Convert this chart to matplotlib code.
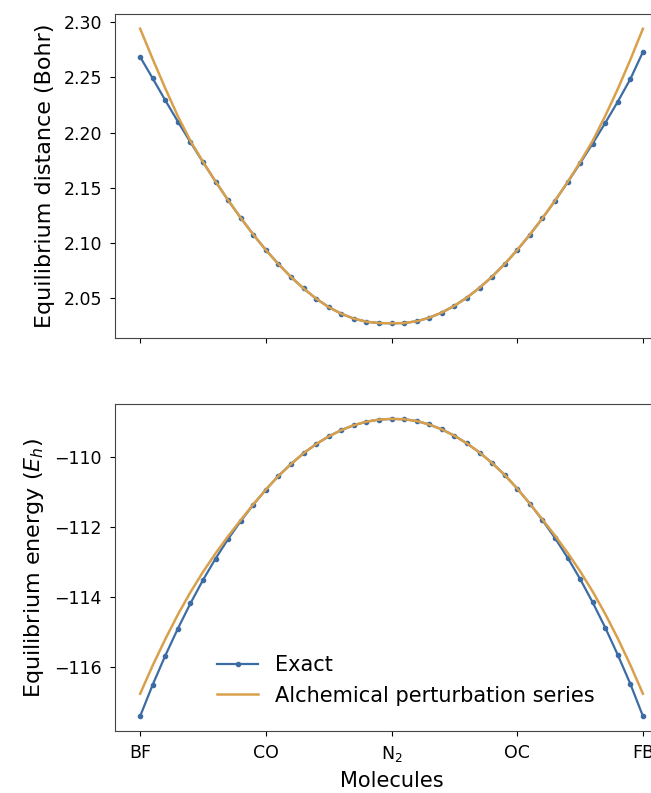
import numpy as np
import matplotlib
matplotlib.use("Agg")
import matplotlib.pyplot as plt

# molecule labels at the tick positions (every 10th point)
tick_labels = ["BF", "CO", "N$_2$", "OC", "FB"]

# equilibrium distance (Bohr)
dist_exact = [2.2685, 2.2490, 2.2292, 2.2100, 2.1913, 2.1732, 2.1556, 2.1387, 2.1228, 2.1077,
              2.0937, 2.0810, 2.0693, 2.0589, 2.0497, 2.0420, 2.0360, 2.0316, 2.0288, 2.0276,
              2.0274, 2.0276, 2.0292, 2.0324, 2.0371, 2.0432, 2.0507, 2.0595, 2.0696, 2.0810,
              2.0937, 2.1075, 2.1224, 2.1382, 2.1549, 2.1722, 2.1901, 2.2087, 2.2280, 2.2485,
              2.2730]
dist_aps = [2.2940, 2.2665, 2.2400, 2.2148, 2.1925, 2.1736, 2.1558, 2.1388, 2.1228, 2.1077,
            2.0937, 2.0810, 2.0693, 2.0589, 2.0497, 2.0420, 2.0360, 2.0316, 2.0288, 2.0276,
            2.0274, 2.0276, 2.0292, 2.0324, 2.0371, 2.0432, 2.0507, 2.0595, 2.0696, 2.0810,
            2.0937, 2.1075, 2.1224, 2.1383, 2.1551, 2.1732, 2.1925, 2.2150, 2.2395, 2.2660,
            2.2940]

# equilibrium energy (Hartree)
ene_exact = [-117.40, -116.50, -115.67, -114.90, -114.18, -113.51, -112.90, -112.34, -111.83, -111.36,
             -110.93, -110.54, -110.20, -109.89, -109.63, -109.41, -109.23, -109.09, -108.99, -108.93,
             -108.91, -108.92, -108.97, -109.07, -109.21, -109.39, -109.61, -109.87, -110.17, -110.51,
             -110.90, -111.33, -111.80, -112.31, -112.87, -113.48, -114.15, -114.87, -115.65, -116.48,
             -117.40]
ene_aps = [-116.76, -115.95, -115.20, -114.50, -113.86, -113.28, -112.75, -112.26, -111.80, -111.35,
           -110.93, -110.54, -110.20, -109.89, -109.63, -109.41, -109.23, -109.09, -108.99, -108.93,
           -108.91, -108.92, -108.97, -109.07, -109.21, -109.39, -109.61, -109.87, -110.17, -110.51,
           -110.90, -111.33, -111.78, -112.24, -112.73, -113.26, -113.84, -114.48, -115.18, -115.94,
           -116.76]

x = np.arange(len(dist_exact))
blue = "#3c6ca3"
gold = "#d9a04c"

fig = plt.figure(figsize=(6.51, 7.93), dpi=100)
# the right edge runs past the canvas, as in the cropped original
ax1 = fig.add_axes([0.1767, 0.5738, 0.8495, 0.4085])
ax2 = fig.add_axes([0.1767, 0.0782, 0.8495, 0.4123], sharex=ax1)

ax1.plot(x, dist_exact, "-o", color=blue, lw=1.6, ms=3, label="Exact")
ax1.plot(x, dist_aps, "-", color=gold, lw=1.8, label="Alchemical perturbation series")
ax1.set_ylabel("Equilibrium distance (Bohr)", fontsize=16, labelpad=6)
ax1.tick_params(labelsize=12.5, labelbottom=False, pad=6)

ax2.plot(x, ene_exact, "-o", color=blue, lw=1.6, ms=3, label="Exact")
ax2.plot(x, ene_aps, "-", color=gold, lw=1.8, label="Alchemical perturbation series")
ax2.set_ylabel("Equilibrium energy ($E_h$)", fontsize=16, labelpad=6)
ax2.set_xlabel("Molecules", fontsize=15, labelpad=5)
ax2.set_xticks(x[::10])
ax2.set_xticklabels(tick_labels)
ax2.tick_params(labelsize=12.5, pad=6)
ax2.set_yticks([-110, -112, -114, -116])
ax2.legend(loc="lower left", bbox_to_anchor=(0.15, 0.02), frameon=False, fontsize=15)

for ax in (ax1, ax2):
    for s in ax.spines.values():
        s.set_color("#444444")

fig.savefig("out.png", dpi=100)
